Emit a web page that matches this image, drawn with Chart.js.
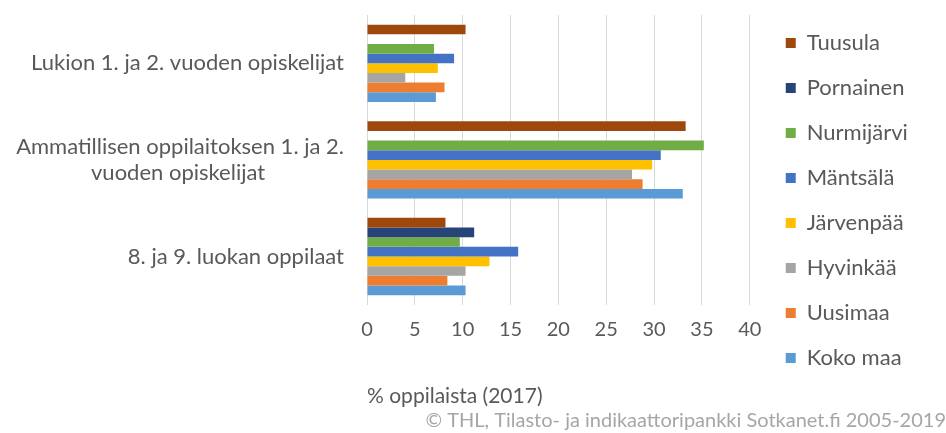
<!DOCTYPE html>
<html>
<head>
<meta charset="utf-8">
<script src="https://cdn.jsdelivr.net/npm/chart.js@4/dist/chart.umd.min.js"></script>
<style>
  body { margin: 0; background: #fff; }
  #wrap { width: 946px; height: 433px; }
</style>
</head>
<body>
<div id="wrap"><canvas id="barChart"></canvas></div>
<script>
const categories = [
    "Lukion 1. ja 2. vuoden opiskelijat",
    ["Ammatillisen oppilaitoksen 1. ja 2.", "vuoden opiskelijat"],
    "8. ja 9. luokan oppilaat"
];

const seriesNames = ["Tuusula", "Pornainen", "Nurmijärvi", "Mäntsälä", "Järvenpää", "Hyvinkää", "Uusimaa", "Koko maa"];
const seriesColors = ["#9E480E", "#264478", "#70AD47", "#4472C4", "#FFC000", "#A5A5A5", "#ED7D31", "#5B9BD5"];

const tuusula    = [10.3, 33.3, 8.2];
const pornainen  = [null, null, 11.2];
const nurmijarvi = [7.0, 35.2, 9.7];
const mantsala   = [9.1, 30.7, 15.8];
const jarvenpaa  = [7.4, 29.8, 12.8];
const hyvinkaa   = [4.0, 27.7, 10.3];
const uusimaa    = [8.1, 28.8, 8.4];
const kokoMaa    = [7.2, 33.0, 10.3];

const seriesValues = [tuusula, pornainen, nurmijarvi, mantsala, jarvenpaa, hyvinkaa, uusimaa, kokoMaa];

const xTicksMax = 40;
const xTitle = "% oppilaista (2017)";
const sourceText = "© THL, Tilasto- ja indikaattoripankki Sotkanet.fi 2005-2019";

const textColor = "#595959";
const fontFamily = "Lato, 'Open Sans', sans-serif";
const nbsp = n => "\u00a0".repeat(n);

// 2nd line of the wrapped label is centred under the 1st in the original,
// chart.js right-aligns every line, so pad it out (nbsp = 5.6px at 22px Lato)
const yLabels = categories.map(l => Array.isArray(l) ? [l[0], l[1] + nbsp(14)] : l);

let ctx = document.getElementById("barChart").getContext("2d");

let chart = new Chart(ctx, {
    type: "bar",
    data: {
        labels: yLabels,
        datasets: seriesNames.map((name, i) => ({
            label: name,
            data: seriesValues[i],
            backgroundColor: seriesColors[i],
            borderWidth: 0,
            categoryPercentage: 0.8,
            barPercentage: 1.0
        }))
    },
    options: {
        indexAxis: "y",
        responsive: true,
        maintainAspectRatio: false,
        animation: false,
        layout: { padding: 0 },
        scales: {
            x: {
                min: 0,
                max: xTicksMax * 396 / 383, // plot runs a little past the 40 line
                afterBuildTicks: scale => {
                    scale.ticks = scale.ticks.filter(t => t.value <= xTicksMax);
                },
                ticks: {
                    stepSize: 5,
                    includeBounds: false,
                    color: textColor,
                    padding: 13,
                    font: { family: fontFamily, size: 20 }
                },
                grid: { color: "#D9D9D9", drawTicks: false },
                border: { display: false },
                title: {
                    display: true,
                    text: xTitle,
                    align: "start",
                    color: textColor,
                    font: { family: fontFamily, size: 21 },
                    padding: { top: 29, bottom: 0 }
                }
            },
            y: {
                ticks: { color: textColor, padding: 0, font: { family: fontFamily, size: 22 } },
                grid: {
                    display: true,
                    drawOnChartArea: false,
                    drawTicks: true,
                    tickLength: 23,
                    color: "rgba(0,0,0,0)"
                },
                border: { display: false },
                afterFit: scale => { scale.width = 367; }
            }
        },
        plugins: {
            title: {
                display: true,
                text: "",
                fullSize: false,
                padding: 0,
                font: { size: 15, lineHeight: 1 }
            },
            subtitle: {
                display: true,
                text: sourceText,
                position: "bottom",
                align: "end",
                color: "#A6A6A6",
                font: { family: fontFamily, size: 20 },
                padding: 0
            },
            legend: {
                position: "right",
                align: "start",
                title: { display: true, text: "", padding: 0, font: { size: 9, lineHeight: 1 } },
                labels: {
                    color: textColor,
                    boxWidth: 10,
                    boxHeight: 10,
                    padding: 23,
                    font: { family: fontFamily, size: 22 },
                    generateLabels: c => Chart.defaults.plugins.legend.labels.generateLabels(c)
                        .map(item => ({ ...item, text: item.text + nbsp(5) }))
                }
            },
            tooltip: { enabled: false }
        }
    }
});
</script>
</body>
</html>
